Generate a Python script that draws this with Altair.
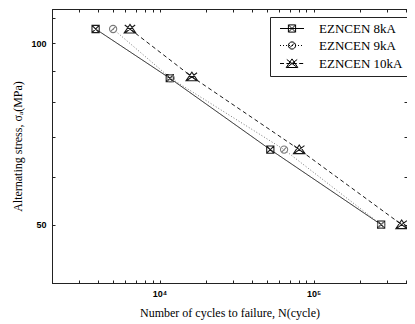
import altair as alt
import pandas as pd

# ---- data ----
series = ["EZNCEN 8kA", "EZNCEN 9kA", "EZNCEN 10kA"]
cycles_8 = [3840, 11650, 52400, 275000]
stress_8 = [105.6, 87.5, 66.6, 50.0]
cycles_9 = [4990, 11800, 64400, 275000]
stress_9 = [105.6, 87.5, 66.6, 50.0]
cycles_10 = [6420, 16200, 80800, 374000]
stress_10 = [105.6, 88.0, 66.6, 50.0]

x_ticks = [2000, 3000, 4000, 5000, 6000, 7000, 8000, 9000,
           10000, 20000, 30000, 40000, 50000, 60000, 70000, 80000, 90000,
           100000, 200000, 300000, 400000]
y_ticks = [40, 50, 60, 70, 80, 90, 100, 110]

rows = []
for name, cs, ss in zip(series, [cycles_8, cycles_9, cycles_10], [stress_8, stress_9, stress_10]):
    for c, s in zip(cs, ss):
        rows.append({"series": name, "cycles": c, "stress": s})
df = pd.DataFrame(rows)

# ---- marker paths (unit coords, drawn at size 64 -> 4 px per unit) ----
def square_x(cx):
    return (f"M{cx-0.9},-0.9H{cx+0.9}V0.9H{cx-0.9}Z"
            f"M{cx-0.9},-0.9L{cx+0.9},0.9M{cx+0.9},-0.9L{cx-0.9},0.9")

def circle_slash(cx):
    r = 0.9
    return (f"M{cx-r},0A{r},{r} 0 1,1 {cx+r},0A{r},{r} 0 1,1 {cx-r},0Z"
            f"M{cx-0.55},0.55L{cx+0.55},-0.55")

def tri_x(cx):
    return (f"M{cx},-1.15L{cx+1.45},1L{cx-1.45},1Z"
            f"M{cx-1.3},-1.0L{cx+1.3},1.0M{cx+1.3},-1.0L{cx-1.3},1.0")

marker_paths = [square_x(0), circle_slash(0), tri_x(0)]

def segs(x0, x1, dash, gap):
    out, x = [], x0
    while x < x1:
        out.append(f"M{x:.3f},0H{min(x + dash, x1):.3f}")
        x += dash + gap
    return "".join(out)

lx0, lx1, mc = -0.375, 5.625, 2.625
legend_paths = [
    f"M{lx0},0H{lx1}" + square_x(mc),
    segs(lx0, lx1, 0.25, 0.5) + circle_slash(mc),
    segs(lx0, lx1, 1.0, 0.6) + tri_x(mc),
]

xs = alt.Scale(type="log", domain=[2000, 405000], nice=False)
ys = alt.Scale(type="log", domain=[40, 114], nice=False)
col = alt.Color("series:N", scale=alt.Scale(domain=series, range=["#1a1a1a", "#7a7a7a", "#1a1a1a"]), legend=None)

x_label_expr = "datum.value == 10000 ? '10⁴' : (datum.value == 100000 ? '10⁵' : '')"
y_label_expr = "datum.value == 50 ? '50' : (datum.value == 100 ? '100' : '')"

bottom_axis = alt.Axis(orient="bottom", values=x_ticks, labelExpr=x_label_expr,
                       title="Number of cycles to failure, N(cycle)",
                       tickSize={"expr": "-3"}, labelPadding=9, titlePadding=9,
                       grid=False, labelOverlap=False)
left_axis = alt.Axis(orient="left", values=y_ticks, labelExpr=y_label_expr,
                     title="Alternating stress, σₐ(MPa)",
                     tickSize={"expr": "-3"}, labelPadding=9, titlePadding=6,
                     grid=False, labelOverlap=False)
top_axis = alt.Axis(orient="top", values=x_ticks, labels=False, title=None,
                    tickSize={"expr": "-3"}, grid=False)
right_axis = alt.Axis(orient="right", values=y_ticks, labels=False, title=None,
                      tickSize={"expr": "-3"}, grid=False)

lines = alt.Chart(df).mark_line(strokeWidth=1).encode(
    x=alt.X("cycles:Q", scale=xs, axis=bottom_axis),
    y=alt.Y("stress:Q", scale=ys, axis=left_axis),
    detail="series:N",
    color=col,
    strokeDash=alt.StrokeDash("series:N", scale=alt.Scale(domain=series, range=[[1, 0], [1, 2], [4, 3]]), legend=None),
)

points = alt.Chart(df).mark_point(filled=False, size=64, strokeWidth=1.1, opacity=1).encode(
    x=alt.X("cycles:Q", scale=xs, axis=None),
    y=alt.Y("stress:Q", scale=ys, axis=None),
    color=col,
    shape=alt.Shape("series:N", scale=alt.Scale(domain=series, range=marker_paths), legend=None),
)

legend_layer = alt.Chart(df).mark_point(filled=False, size=64, strokeWidth=1, opacity=0, color="black").encode(
    x=alt.X("cycles:Q", scale=xs, axis=top_axis),
    y=alt.Y("stress:Q", scale=ys, axis=right_axis),
    shape=alt.Shape("series:N", scale=alt.Scale(domain=series, range=legend_paths),
                    legend=alt.Legend(orient="none", legendX=218, legendY=8, title=None,
                                      labelFont="Liberation Serif", labelFontSize=13,
                                      labelColor="black", labelOffset=31, padding=5,
                                      rowPadding=3, strokeColor="#222", fillColor="white",
                                      symbolOpacity=1, symbolStrokeColor="black",
                                      symbolFillColor="transparent", symbolStrokeWidth=1,
                                      symbolSize=64, labelExpr="datum.label + '  '")),
)

chart = alt.layer(lines, points, legend_layer).resolve_scale(
    shape="independent"
).resolve_axis(
    x="independent", y="independent"
).properties(
    width=355, height=274,
    padding={"left": 44, "top": 1, "right": 0, "bottom": 40},
    autosize=alt.AutoSizeParams(type="none"),
).configure_axis(
    labelFont="Liberation Sans", labelFontWeight="bold", labelFontSize=9, labelColor="black",
    titleFont="Liberation Serif", titleFontSize=12, titleFontWeight="normal", titleColor="black",
    domainColor="#222", tickColor="#222",
).configure_view(stroke="#222", strokeWidth=1)

chart.save("out.html", embed_options={"renderer": "svg", "actions": False})
